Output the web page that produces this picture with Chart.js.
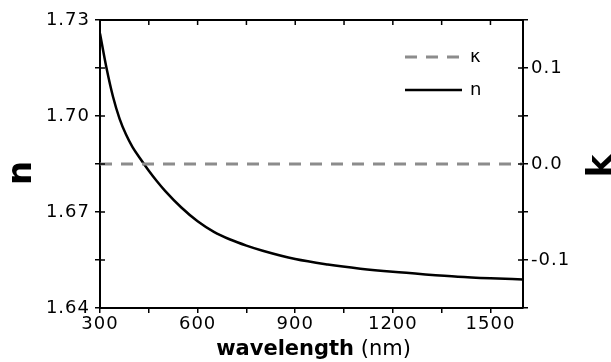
<!DOCTYPE html>
<html>
<head>
<meta charset="utf-8">
<script src="https://cdn.jsdelivr.net/npm/chart.js@4"></script>
<style>
  html, body { margin: 0; padding: 0; background: #fff; }
  #wrap { width: 611px; height: 362px; position: relative; }
</style>
</head>
<body>
<div id="wrap"><canvas id="chart"></canvas></div>
<script>
// refractive index n and extinction coefficient κ vs wavelength (nm)
const wavelength = [300, 320, 340, 360, 380, 400, 425, 450, 475, 500, 550, 600, 650, 700, 750, 800, 900, 1000, 1100, 1200, 1300, 1400, 1500, 1600];
const nValues = [1.7258, 1.7150, 1.7060, 1.6992, 1.6942, 1.6903, 1.6865, 1.6829, 1.6796, 1.6766, 1.6714, 1.6671, 1.6638, 1.6614, 1.6595, 1.6579, 1.6553, 1.6536, 1.6523, 1.6513, 1.6505, 1.6498, 1.6493, 1.6489];
const kappaWavelength = [300, 1600];
const kappaValues = [0, 0];

const xTicks = [300, 450, 600, 750, 900, 1050, 1200, 1350, 1500];
const xTickLabels = ['300', '', '600', '', '900', '', '1200', '', '1500'];
const nTicks = [1.64, 1.655, 1.67, 1.685, 1.70, 1.715, 1.73];
const nTickLabels = ['1.64', '', '1.67', '', '1.70', '', '1.73'];
const kTicks = [-0.15, -0.1, -0.05, 0, 0.05, 0.1, 0.15];
const kTickLabels = ['', '-0.1', '', '0.0', '', '0.1', ''];

const tickFont = { family: 'DejaVu Sans', size: 18 };
const ink = '#000';

function pts(xs, ys) {
  return xs.map((x, i) => ({ x, y: ys[i] }));
}

function fixedTicks(values) {
  return scale => { scale.ticks = values.map(v => ({ value: v })); };
}

const frame = {
  id: 'frame',
  beforeLayout(chart) { chart.ctx.letterSpacing = '1px'; },
  beforeDraw(chart) { chart.ctx.letterSpacing = '1px'; },
  afterDraw(chart) {
    const { ctx, chartArea: a, scales } = chart;
    ctx.save();
    ctx.letterSpacing = '0px';
    ctx.strokeStyle = ink;

    // top edge of the box
    ctx.lineWidth = 2;
    ctx.beginPath();
    ctx.moveTo(a.left - 1, a.top);
    ctx.lineTo(a.right + 1, a.top);
    ctx.stroke();

    // inward ticks
    ctx.lineWidth = 1.5;
    ctx.beginPath();
    xTicks.forEach(v => {
      const px = scales.x.getPixelForValue(v);
      ctx.moveTo(px, a.top);
      ctx.lineTo(px, a.top + 5);
    });
    nTicks.forEach(v => {
      const py = scales.y.getPixelForValue(v);
      ctx.moveTo(a.left, py);
      ctx.lineTo(a.left + 5, py);
    });
    kTicks.forEach(v => {
      const py = scales.y1.getPixelForValue(v);
      ctx.moveTo(a.right, py);
      ctx.lineTo(a.right - 5, py);
    });
    ctx.stroke();

    // legend
    const rows = [a.top + 37, a.top + 70];
    chart.data.datasets.forEach((ds, i) => {
      const y = rows[i];
      ctx.save();
      ctx.strokeStyle = ds.borderColor;
      ctx.lineWidth = ds.borderWidth;
      ctx.setLineDash(ds.borderDash || []);
      ctx.beginPath();
      ctx.moveTo(a.right - 118, y);
      ctx.lineTo(a.right - 61, y);
      ctx.stroke();
      ctx.restore();
      ctx.fillStyle = ink;
      ctx.font = '18px "DejaVu Sans"';
      ctx.textBaseline = 'middle';
      ctx.textAlign = 'left';
      ctx.fillText(ds.label, a.right - 53, y);
    });

    // axis titles
    ctx.fillStyle = ink;
    ctx.textBaseline = 'alphabetic';
    ctx.textAlign = 'center';
    ctx.font = 'bold 34px "DejaVu Sans"';
    ctx.save();
    ctx.translate(31, (a.top + a.bottom) / 2 + 9);
    ctx.rotate(-Math.PI / 2);
    ctx.fillText('n', 0, 0);
    ctx.restore();
    ctx.save();
    ctx.translate(611, (a.top + a.bottom) / 2 + 2);
    ctx.rotate(-Math.PI / 2);
    ctx.fillText('k', 0, 0);
    ctx.restore();

    const bold = 'bold 21px "DejaVu Sans"';
    const plain = '21px "DejaVu Sans"';
    const t1 = 'wavelength', t2 = ' (nm)';
    ctx.font = bold;
    const w1 = ctx.measureText(t1).width;
    ctx.font = plain;
    const w2 = ctx.measureText(t2).width;
    const x0 = (a.left + a.right) / 2 + 2 - (w1 + w2) / 2;
    ctx.textAlign = 'left';
    ctx.font = bold;
    ctx.fillText(t1, x0, 355);
    ctx.font = plain;
    ctx.fillText(t2, x0 + w1, 355);
    ctx.restore();
  }
};

new Chart(document.getElementById('chart'), {
  type: 'line',
  data: {
    datasets: [
      {
        label: 'κ',
        data: pts(kappaWavelength, kappaValues),
        yAxisID: 'y1',
        borderColor: '#8c8c8c',
        borderWidth: 3,
        borderDash: [12, 9],
        pointRadius: 0
      },
      {
        label: 'n',
        data: pts(wavelength, nValues),
        yAxisID: 'y',
        borderColor: '#000',
        borderWidth: 2.5,
        cubicInterpolationMode: 'monotone',
        pointRadius: 0
      }
    ]
  },
  options: {
    responsive: true,
    maintainAspectRatio: false,
    animation: false,
    layout: { padding: { top: 20, left: 0, right: 0, bottom: 0 } },
    plugins: {
      legend: { display: false },
      tooltip: { enabled: false }
    },
    scales: {
      x: {
        type: 'linear',
        min: 300,
        max: 1600,
        afterBuildTicks: fixedTicks(xTicks),
        afterFit: s => { s.height = 54; },
        grid: { drawOnChartArea: false, color: ink, lineWidth: 1.5, tickLength: 5 },
        border: { color: ink, width: 2 },
        ticks: {
          color: ink, font: tickFont, padding: 1, maxRotation: 0, autoSkip: false,
          callback: (v, i) => xTickLabels[i]
        }
      },
      y: {
        position: 'left',
        min: 1.64,
        max: 1.73,
        afterBuildTicks: fixedTicks(nTicks),
        afterFit: s => { s.width = 100; },
        grid: { drawOnChartArea: false, color: ink, lineWidth: 1.5, tickLength: 5 },
        border: { color: ink, width: 2 },
        ticks: {
          color: ink, font: tickFont, padding: 5, autoSkip: false,
          callback: (v, i) => nTickLabels[i]
        }
      },
      y1: {
        position: 'right',
        min: -0.15,
        max: 0.15,
        afterBuildTicks: fixedTicks(kTicks),
        afterFit: s => { s.width = 88; },
        grid: { drawOnChartArea: false, color: ink, lineWidth: 1.5, tickLength: 5 },
        border: { color: ink, width: 2 },
        ticks: {
          color: ink, font: tickFont, padding: 3, autoSkip: false,
          callback: (v, i) => kTickLabels[i]
        }
      }
    }
  },
  plugins: [frame]
});
</script>
</body>
</html>
